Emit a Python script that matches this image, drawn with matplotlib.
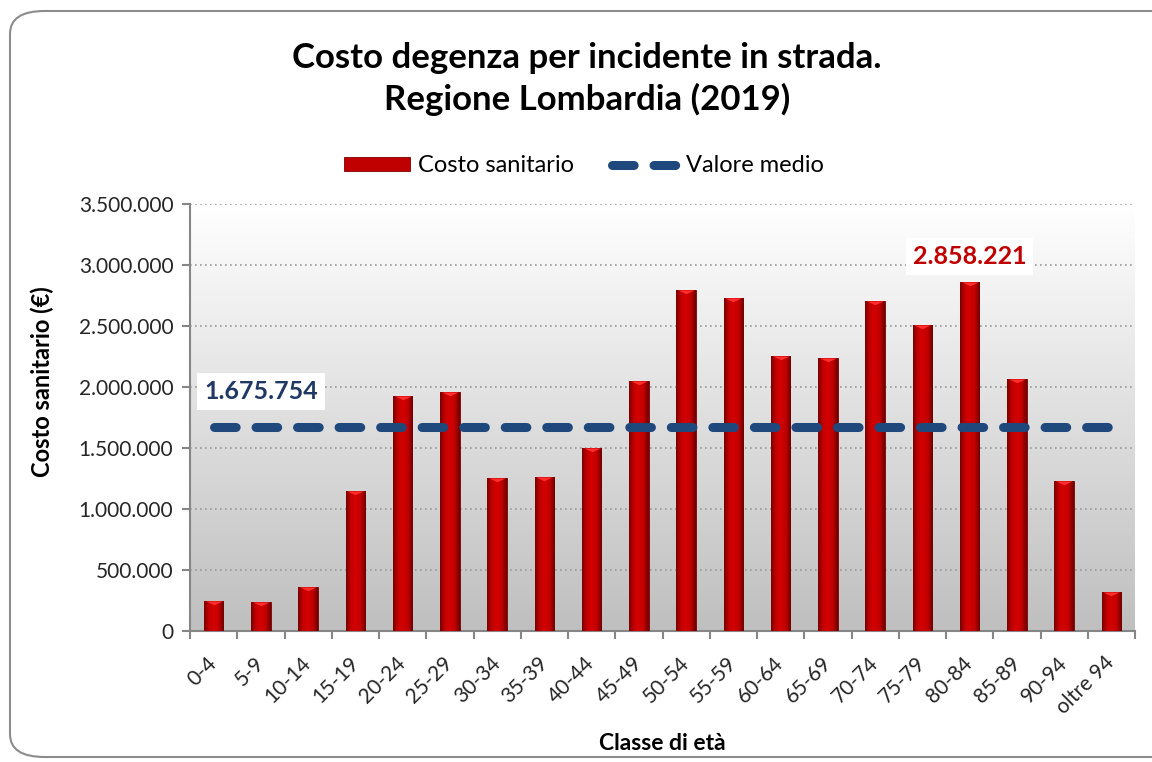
import matplotlib
matplotlib.use('Agg')
import matplotlib.pyplot as plt
import numpy as np
from matplotlib.patches import FancyBboxPatch
from matplotlib.path import Path

# data
classi = ['0-4', '5-9', '10-14', '15-19', '20-24', '25-29', '30-34', '35-39',
          '40-44', '45-49', '50-54', '55-59', '60-64', '65-69', '70-74',
          '75-79', '80-84', '85-89', '90-94', 'oltre 94']
costo = [246000, 236000, 356000, 1147000, 1926000, 1959000, 1251000, 1264000,
         1497000, 2047000, 2794000, 2731000, 2255000, 2236000, 2709000,
         2507000, 2858221, 2066000, 1229000, 320000]
media = 1675754
yticks = [0, 500000, 1000000, 1500000, 2000000, 2500000, 3000000, 3500000]

plt.rcParams['font.family'] = ['Lato', 'DejaVu Sans']

def fmt(v):
    return '{:,}'.format(int(v)).replace(',', '.')

fig = plt.figure(figsize=(11.52, 7.62), dpi=100)
fig.patch.set_facecolor('white')

# rounded frame of the chart area
frame = FancyBboxPatch((10 / 1152, 1 - 757 / 762), 1.2, 746 / 762,
                       boxstyle='round,pad=0,rounding_size=0.03',
                       transform=fig.transFigure, fill=False,
                       edgecolor='#8c8c8c', linewidth=1.5)
fig.patches.append(frame)

ax = fig.add_axes([190 / 1152, 1 - 630.7 / 762, 945 / 1152, 426.4 / 762])
ax.set_facecolor('none')

# grey gradient behind the plot
grad = np.linspace(1, 0, 256).reshape(-1, 1)
ax.imshow(grad, extent=[0, 1, 0, 1], transform=ax.transAxes, aspect='auto',
          cmap=matplotlib.colors.LinearSegmentedColormap.from_list(
              'bg', ['#bfbfbf', '#ffffff']), zorder=0)

x = np.arange(len(classi))
bars = ax.bar(x, costo, width=0.41, color='#c00000', edgecolor='#7a0000',
              linewidth=0.6, zorder=3)

# horizontal shading on each bar
shade = matplotlib.colors.LinearSegmentedColormap.from_list(
    'barshade', ['#7a0000', '#c40000', '#d40000', '#c00000', '#6e0000'])
row = np.linspace(0, 1, 64).reshape(1, -1)
for b in bars:
    im = ax.imshow(row, extent=[b.get_x(), b.get_x() + b.get_width(), 0, b.get_height()],
                   aspect='auto', cmap=shade, zorder=3.5)
    im.set_clip_path(b)

# bevel triangle at the top of each bar
tri = Path([(-1, 0), (1, 0), (0, -0.45), (-1, 0)],
           [Path.MOVETO, Path.LINETO, Path.LINETO, Path.CLOSEPOLY])
ax.scatter(x, costo, marker=tri, s=140, color='#ff2e2e', linewidths=0, zorder=4)

ln, = ax.plot([x[0], x[-1]], [media, media], color='#1f497d', linewidth=6.5,
              dash_capstyle='round', zorder=5)
ln.set_dashes((2.4, 2.2))

ax.set_xlim(-0.5, len(classi) - 0.5)
ax.set_ylim(0, 3500000)
ax.set_yticks(yticks)
ax.set_yticklabels([fmt(v) for v in yticks], fontsize=15, color='#262626')
ax.yaxis.grid(True, linestyle=(0, (1, 2)), color='#999999', linewidth=1.2, zorder=1)
ax.set_axisbelow(True)

ax.set_xticks(x)
ax.set_xticklabels(classi, rotation=45, ha='right', va='center',
                   rotation_mode='anchor', fontsize=15, color='#262626')
ax.set_xticks(np.arange(-0.5, len(classi)), minor=True)
ax.tick_params(axis='x', which='major', length=0, pad=21)
ax.tick_params(axis='x', which='minor', length=6, width=1.5, color='#868686')
ax.tick_params(axis='y', length=6, width=1.5, color='#868686', pad=6)

for s in ['top', 'right']:
    ax.spines[s].set_visible(False)
for s in ['left', 'bottom']:
    ax.spines[s].set_color('#868686')
    ax.spines[s].set_linewidth(1.5)

ax.set_xlabel('Classe di età', fontsize=16.5, fontweight='bold')
ax.xaxis.label.set_va('center')
ax.xaxis.set_label_coords(0.5, -(743 - 630.7) / 426.4)

# value labels
ax.annotate(fmt(media), xy=(1, media), xytext=(0, 25), textcoords='offset points',
            ha='center', va='center', fontsize=18, fontweight='bold', color='#1f3864',
            bbox=dict(boxstyle='square,pad=0.28', facecolor='white', edgecolor='none'),
            zorder=6)
imax = int(np.argmax(costo))
ax.annotate(fmt(costo[imax]), xy=(x[imax], costo[imax]), xytext=(0, 19),
            textcoords='offset points', ha='center', va='center', fontsize=18,
            fontweight='bold', color='#c00000',
            bbox=dict(boxstyle='square,pad=0.28', facecolor='white', edgecolor='none'),
            zorder=6)

fig.text(587 / 1152, 1 - 79 / 762,
         'Costo degenza per incidente in strada.\nRegione Lombardia (2019)',
         ha='center', va='center', fontsize=25, fontweight='bold', linespacing=1.3)
fig.text(42 / 1152, 1 - 382 / 762, 'Costo sanitario (€)', rotation=90,
         ha='center', va='center', fontsize=17, fontweight='bold')

fig.legend([bars, ln], ['Costo sanitario', 'Valore medio'], loc='center',
           bbox_to_anchor=(584 / 1152, 1 - 166 / 762), ncol=2, frameon=False,
           fontsize=17, handlelength=2.8, handleheight=0.5, columnspacing=1.6,
           handletextpad=0.35)

fig.savefig('out.png', dpi=100)
